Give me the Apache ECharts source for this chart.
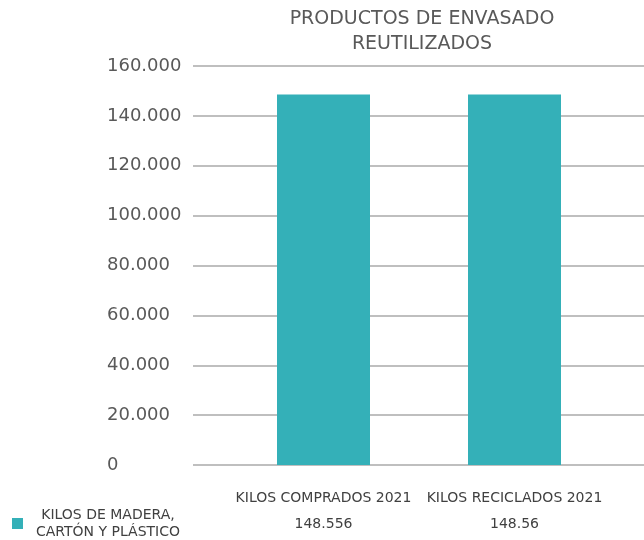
<!DOCTYPE html>
<html>
<head>
<meta charset="utf-8">
<script src="https://cdn.jsdelivr.net/npm/echarts@6/dist/echarts.min.js"></script>
<style>
  html, body { margin: 0; padding: 0; background: #fff; }
  #chart { width: 644px; height: 540px; }
</style>
</head>
<body>
<div id="chart"></div>
<script>
// datos del grafico
var categories = ['KILOS COMPRADOS 2021', 'KILOS RECICLADOS 2021'];
var values = [148556, 148560];
var valueLabels = ['148.556', '148.56']; // tal como aparece en la tabla
var seriesName = 'KILOS DE MADERA,\nCARTÓN Y PLÁSTICO';
var yMax = 160000;
var yStep = 20000;

var font = 'DejaVu Sans';
var myChart = echarts.init(document.getElementById('chart'));

function miles(v) {
  // 20000 -> 20.000
  return String(v).replace(/\B(?=(\d{3})+(?!\d))/g, '.');
}

myChart.setOption({
  animation: false,
  title: {
    text: 'PRODUCTOS DE ENVASADO\nREUTILIZADOS',
    left: 422,
    textAlign: 'center',
    top: 7,
    padding: 0,
    textStyle: {
      fontFamily: font,
      fontWeight: 'normal',
      fontSize: 19,
      lineHeight: 25,
      color: '#595959'
    }
  },
  legend: {
    left: 12,
    top: 508,
    padding: 0,
    itemWidth: 11,
    itemHeight: 11,
    itemGap: 6,
    icon: 'rect',
    formatter: function (name) {
      return '{t|' + name + '}';
    },
    textStyle: {
      rich: {
        t: {
          fontFamily: font,
          fontSize: 14,
          lineHeight: 17,
          color: '#404040',
          width: 160,
          align: 'center'
        }
      }
    }
  },
  grid: [
    // grid de las barras
    { left: 228, width: 382, top: 66, bottom: 75 },
    // grid solo para las lineas y etiquetas del eje y
    { left: 193, right: 0, top: 66, bottom: 75 }
  ],
  xAxis: [
    {
      gridIndex: 0,
      type: 'category',
      data: categories,
      axisLine: { show: false },
      axisTick: { show: false },
      axisLabel: {
        margin: 20,
        interval: 0,
        formatter: function (v, i) {
          return '{a|' + v + '}\n{b|' + valueLabels[i] + '}';
        },
        rich: {
          a: { fontFamily: font, fontSize: 14, color: '#404040', lineHeight: 26 },
          b: { fontFamily: font, fontSize: 14, color: '#404040', lineHeight: 26 }
        }
      }
    },
    { gridIndex: 1, type: 'value', show: false }
  ],
  yAxis: [
    {
      gridIndex: 0,
      type: 'value',
      min: 0,
      max: yMax,
      interval: yStep,
      show: false
    },
    {
      gridIndex: 1,
      type: 'value',
      min: 0,
      max: yMax,
      interval: yStep,
      axisLine: { show: false },
      axisTick: { show: false },
      axisLabel: {
        margin: 86,
        align: 'left',
        fontFamily: font,
        fontSize: 18,
        color: '#595959',
        formatter: miles
      },
      splitLine: { lineStyle: { color: '#bfbfbf', width: 2 } }
    }
  ],
  series: [
    {
      name: seriesName,
      type: 'bar',
      xAxisIndex: 0,
      yAxisIndex: 0,
      data: values,
      barWidth: 93,
      itemStyle: { color: '#34b0b8' }
    }
  ]
});
</script>
</body>
</html>
